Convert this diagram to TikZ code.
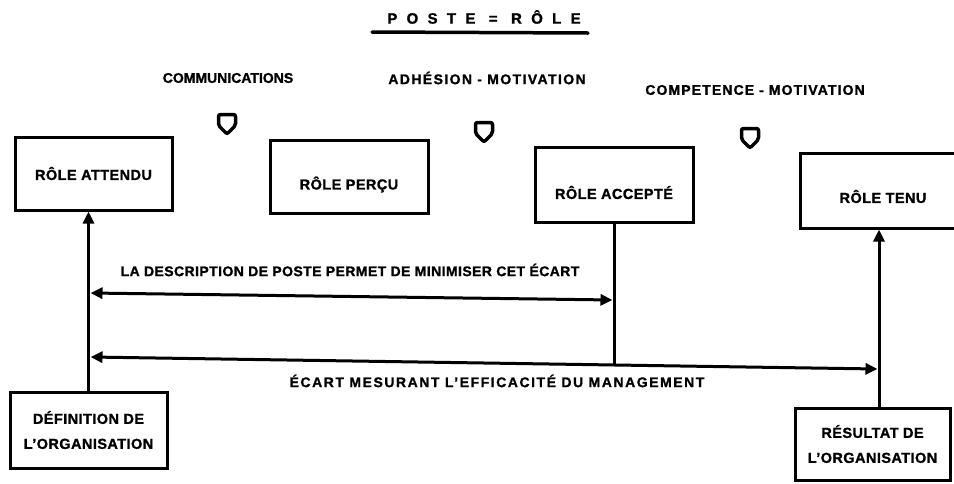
\documentclass[tikz,border=0pt]{standalone}
\usepackage{fontspec}
\setmainfont{Liberation Sans}[BoldFeatures={FakeBold=1.2}]
\usetikzlibrary{arrows.meta,calc}
\begin{document}
\begin{tikzpicture}[x=1pt,y=-1pt,
  txt/.style={font=\bfseries\fontsize{14}{16}\selectfont, inner sep=0pt},
  box/.style={draw, line width=3pt, minimum width=157pt, minimum height=73pt, inner sep=2pt, align=center,
              font=\bfseries\fontsize{14.5}{25}\selectfont\addfontfeature{LetterSpace=3}},
  conn/.style={line width=3pt},
  tip/.style={-{Triangle[length=12pt,width=11pt]}},
  dtip/.style={{Triangle[length=12pt,width=11pt]}-{Triangle[length=12pt,width=11pt]}},
  shield/.pic={\draw[line width=3.5pt, rounded corners=2pt, line join=round]
     (-8.5,-9.5) -- (8.5,-9.5) -- (8.5,1.5) -- (0,10) -- (-8.5,1.5) -- cycle;}]
\useasboundingbox (0,0) rectangle (954,483);

% title
\node[font=\bfseries\fontsize{15}{17}\selectfont\addfontfeature{LetterSpace=62}, inner sep=0pt] (title) at (484,17) {POSTE = RÔLE};
\draw[line width=3.5pt, line cap=round] (372,32) -- (588,33);

% top labels
\node[txt] (t1) at (228,78) {COMMUNICATIONS};
\node[txt, font=\bfseries\fontsize{14}{16}\selectfont\addfontfeature{LetterSpace=10}] (t2) at (487,78) {ADHÉSION - MOTIVATION};
\node[txt, font=\bfseries\fontsize{14}{16}\selectfont\addfontfeature{LetterSpace=8}] (t3) at (755,90) {COMPETENCE - MOTIVATION};

% shields
\pic at (227,124) {shield};
\pic at (484,132) {shield};
\pic at (750,138) {shield};

% boxes
\node[box] (att) at (93.5,173.5) {RÔLE ATTENDU};
\node[box, minimum width=158pt] (perc) at (349,176.5) {\raisebox{-8pt}[\height][\depth]{RÔLE PERÇU}};
\node[box, minimum width=158pt, minimum height=75pt] (acc) at (614,184.5) {\raisebox{-8pt}[\height][\depth]{RÔLE ACCEPTÉ}};
\node[box, minimum width=166pt, minimum height=75pt] (tenu) at (883,190.5) {\raisebox{-6pt}[\height][\depth]{RÔLE TENU}};
\node[box, minimum height=76pt] (def) at (88.5,430) {DÉFINITION DE\\L’ORGANISATION};
\node[box, minimum width=155pt, minimum height=72pt] (res) at (872.5,444) {RÉSULTAT DE\\L’ORGANISATION};

% connectors
\draw[conn, tip] (def.north) -- (def.north |- att.south);

\coordinate (a1l) at (90.5,293);
\coordinate (a1r) at (612.5,300);
\draw[conn, dtip] (a1l) -- (a1r);

\coordinate (accb) at (614,365);
\draw[conn] (acc.south) -- (accb);

\coordinate (a2l) at (90.5,357);
\coordinate (a2r) at (877.5,369);
\draw[conn, dtip] (a2l) -- (a2r);

\coordinate (tb) at ([xshift=6.5pt]res.north);
\path (tb |- tenu.south) coordinate (tt);
\draw[conn, tip] (tb) -- (tt);

% arrow labels
\node[txt, font=\bfseries\fontsize{14}{16}\selectfont\addfontfeature{LetterSpace=3}] (l1) at (350,270) {LA DESCRIPTION DE POSTE PERMET DE MINIMISER CET ÉCART};
\node[txt, font=\bfseries\fontsize{14}{16}\selectfont\addfontfeature{LetterSpace=11}] (l2) at (497,381) {ÉCART MESURANT L’EFFICACITÉ DU MANAGEMENT};
\end{tikzpicture}
\end{document}
